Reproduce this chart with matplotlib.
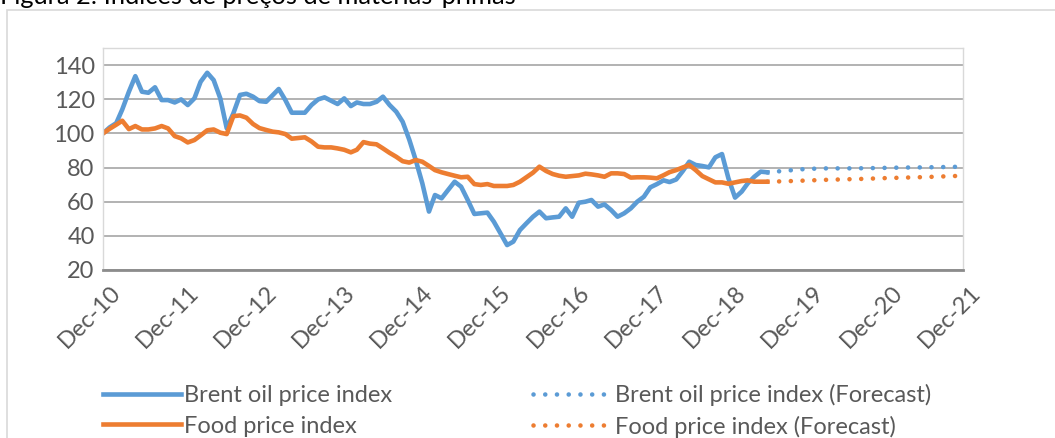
import matplotlib
matplotlib.use("Agg")
import matplotlib.pyplot as plt
import pandas as pd
from matplotlib.patches import Rectangle
from matplotlib.transforms import ScaledTranslation

plt.rcParams["font.family"] = ["Lato", "DejaVu Sans"]

# monthly index values, Dec-10 .. Jun-19 (Dec-10 = 100)
brent = [
    100, 103.5, 106, 114, 124.4, 133.5, 124.4, 123.8, 127, 119.5, 119.5, 118.1,
    119.9, 116.6, 120.5, 130.2, 135.5, 131.2, 120.5, 103, 111.7, 122.5, 123.2, 121.5,
    118.9, 118.5, 122.4, 126, 119.5, 112.1, 112.1, 112.1, 116.6, 119.9, 121.1, 119.1,
    117.2, 120.5, 116, 118.1, 117.2, 117.2, 118.5, 121.5, 116.6, 112.7, 106.8, 96.3,
    84.4, 70.7, 54.2, 63.9, 62, 66.8, 71.7, 68.8, 61, 52.8, 53.2, 53.6,
    48.3, 41.5, 34.6, 36.6, 43.4, 47.3, 51.2, 54.2, 50.3, 50.8, 51.2, 56.1,
    51.2, 59.4, 60, 61, 57.1, 58.4, 55.1, 51.2, 53.2, 56.1, 60, 62.9,
    68.4, 70.3, 72.5, 71.5, 73, 77.8, 83.4, 81.5, 80.9, 80.1, 86, 87.9,
    73.7, 62.4, 65.9, 70.7, 74.6, 77.6, 77.2,
]
food = [
    100, 102.7, 105.1, 107.4, 102.5, 104.3, 102.3, 102.3, 102.9, 104.3, 102.9, 98.4,
    97.1, 94.7, 96.1, 98.8, 101.8, 102.3, 100.4, 99.6, 110.1, 110.5, 109.2, 105.5,
    103.1, 102, 101, 100.6, 99.6, 96.9, 97.3, 97.7, 95.3, 92.2, 91.8, 91.8,
    91.2, 90.4, 88.9, 90.4, 94.9, 94, 93.6, 91.2, 88.6, 86.3, 83.7, 82.9,
    84.4, 83.4, 80.9, 78.5, 77.2, 76.2, 75.2, 74.3, 74.6, 70.3, 69.8, 70.3,
    69.2, 69.2, 69.2, 69.8, 71.7, 74.3, 77, 80.5, 78, 76.2, 75.2, 74.6,
    75, 75.4, 76.4, 76, 75.4, 74.6, 76.6, 76.6, 76.2, 74.1, 74.3, 74.3,
    74.1, 73.7, 75.5, 77.3, 78.5, 80, 81.5, 78.5, 75, 73.1, 71.3, 71.3,
    70.5, 71.3, 72.1, 72.5, 71.7, 71.7, 71.7,
]
# quarterly forecast, Jun-19 .. Dec-21
brent_fc = [77.2, 78.2, 79.2, 79.5, 79.5, 79.6, 79.8, 80.0, 80.1, 80.3, 80.5]
food_fc = [71.7, 72.0, 72.4, 72.8, 73.1, 73.4, 73.8, 74.1, 74.4, 74.8, 75.2]

months = pd.date_range("2010-12-01", periods=len(brent), freq="MS")
fc_dates = pd.date_range(months[-1], periods=len(brent_fc), freq="3MS")
tick_dates = pd.date_range("2010-12-01", "2021-12-01", freq="12MS")
tick_labels = [d.strftime("%b-%y") for d in tick_dates]
y_ticks = [20, 40, 60, 80, 100, 120, 140]

BLUE = "#5B9BD5"
ORANGE = "#ED7D31"
GREY_TXT = "#595959"
FS = 17

W, H = 1055, 438
fig = plt.figure(figsize=(W / 100, H / 100), dpi=100)
ax = fig.add_axes([103 / W, 1 - 270 / H, 860 / W, 222 / H])

# outer chart frame (runs off the right/bottom edges)
fig.patches.append(Rectangle((7 / W, -0.2), 1.2, 1.2 - 10 / H, transform=fig.transFigure,
                             fill=False, ec="#D9D9D9", lw=1.2))
fig.text(0.0, 1 - 4 / H, "Figura 2: Índices de preços de matérias-primas",
         fontsize=18.3, va="baseline", ha="left", color="black")

lw = 3.3
h1, = ax.plot(months, brent, color=BLUE, lw=lw, solid_joinstyle="round",
              label="Brent oil price index")
h2, = ax.plot(months, food, color=ORANGE, lw=lw, solid_joinstyle="round",
              label="Food price index")
dots = (0, (0.01, 2.55))
h3, = ax.plot(fc_dates, brent_fc, color=BLUE, lw=lw, ls=dots, dash_capstyle="round",
              label="Brent oil price index (Forecast)")
h4, = ax.plot(fc_dates, food_fc, color=ORANGE, lw=lw, ls=dots, dash_capstyle="round",
              label="Food price index (Forecast)")

ax.set_xlim(tick_dates[0], tick_dates[-1])
ax.set_ylim(20, 150)
ax.set_yticks(y_ticks)
ax.set_xticks(tick_dates, tick_labels, rotation=45, ha="right", va="center",
              rotation_mode="anchor")
ax.tick_params(length=0, labelsize=FS, colors=GREY_TXT)
ax.tick_params(axis="y", pad=6)
ax.tick_params(axis="x", pad=14)
for lbl in ax.get_xticklabels():
    lbl.set_transform(lbl.get_transform() + ScaledTranslation(0.14, 0, fig.dpi_scale_trans))

ax.grid(axis="y", color="#A6A6A6", lw=1.2)
ax.set_axisbelow(True)
for side in ("left", "top", "right"):
    ax.spines[side].set_color("#D9D9D9")
    ax.spines[side].set_linewidth(1)
ax.spines["bottom"].set_color("#8C8C8C")
ax.spines["bottom"].set_linewidth(2)

fig.legend([h1, h2, h3, h4], [h.get_label() for h in (h1, h2, h3, h4)],
           loc="upper left", bbox_to_anchor=(103 / W, 1 - 384 / H), ncol=2,
           frameon=False, fontsize=FS, labelcolor=GREY_TXT, handlelength=3.3,
           handletextpad=0.15, columnspacing=5.95, labelspacing=0.4, borderpad=0,
           borderaxespad=0)

fig.savefig("out.png", dpi=100)
